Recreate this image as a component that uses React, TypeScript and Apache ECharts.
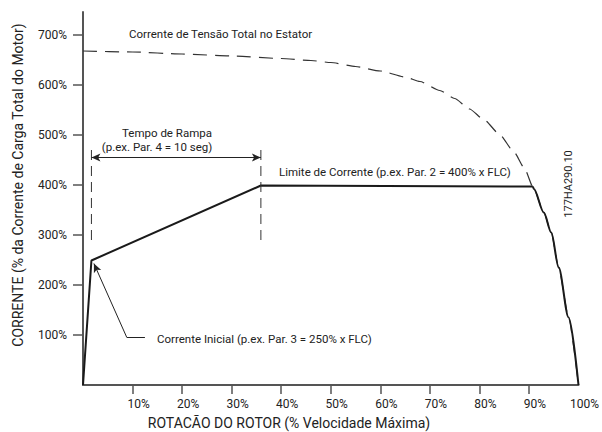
import React, { useEffect, useRef } from "react";
import * as echarts from "echarts";

const FONT = "Roboto, 'Noto Sans', sans-serif";

const xTickValues = [10, 20, 30, 40, 50, 60, 70, 80, 90];
const xLabelValues = [10, 20, 30, 40, 50, 60, 70, 80, 90, 100];
const yValues = [100, 200, 300, 400, 500, 600, 700];

// Corrente de Tensão Total no Estator (dashed)
const statorX = [0, 10, 20, 30, 40, 46, 50, 55, 60, 65, 68, 72, 75, 78, 81, 84, 87, 89, 91, 93, 94.5, 96, 98, 100];
const statorY = [668, 666, 662, 658, 653, 649, 645, 637, 628, 616, 607, 589, 573, 552, 530, 502, 466, 435, 392, 345, 305, 235, 135, 0];

// Corrente real com limite (solid): rampa + limite
const currentX = [0, 1.7, 35.9, 90.8];
const currentY = [0, 249, 399, 397];

// Corrente real: queda final (segue a curva do estator)
const tailX = [90.8, 91, 93, 94.5, 96, 98, 100];
const tailY = [397, 392, 345, 305, 235, 135, 0];

// Ramp markers
const rampStart = 1.7;
const rampEnd = 35.9;
const rampLow = 290;
const rampHigh = 480;
const rampArrowY = 455;

// Leader for "Corrente Inicial"
const leaderX = [12.5, 8.8, 2.2];
const leaderY = [96, 96, 243];

export default function App() {
  const ref = useRef<HTMLDivElement>(null);
  useEffect(() => {
    if (!ref.current) return;
    const chart = echarts.init(ref.current, null, { renderer: "svg" });
    const textStyle = { fill: "#222", fontFamily: FONT, fontSize: 11.5 };
    chart.setOption({
      animation: false,
      backgroundColor: "#fff",
      grid: { left: 83, right: 19, top: 12, bottom: 47 },
      xAxis: {
        type: "value",
        min: 0,
        max: 100,
        axisLine: { show: true, lineStyle: { color: "#555", width: 2 } },
        axisTick: { show: true, customValues: xTickValues, length: 9, lineStyle: { color: "#555", width: 1.5 } },
        axisLabel: {
          customValues: xLabelValues,
          formatter: (v: number) => v + "%",
          color: "#222",
          fontFamily: FONT,
          fontSize: 12,
          margin: 13,
          padding: [0, 0, 0, 12],
        },
        splitLine: { show: false },
      },
      yAxis: {
        type: "value",
        min: 0,
        max: 746,
        axisLine: { show: true, lineStyle: { color: "#555", width: 2 } },
        axisTick: { show: true, customValues: yValues, length: 10, lineStyle: { color: "#555", width: 1.5 } },
        axisLabel: {
          customValues: yValues,
          formatter: (v: number) => v + "%",
          color: "#222",
          fontFamily: FONT,
          fontSize: 12,
          margin: 16,
        },
        splitLine: { show: false },
      },
      series: [
        {
          type: "line",
          data: statorX.map((x, i) => [x, statorY[i]]),
          smooth: 0.2,
          smoothMonotone: "x",
          showSymbol: false,
          silent: true,
          lineStyle: { color: "#333", width: 1.2, type: [14, 8] },
        },
        {
          type: "line",
          data: currentX.map((x, i) => [x, currentY[i]]),
          showSymbol: false,
          silent: true,
          lineStyle: { color: "#1a1a1a", width: 2 },
        },
        {
          type: "line",
          data: tailX.map((x, i) => [x, tailY[i]]),
          smooth: 0.3,
          smoothMonotone: "x",
          showSymbol: false,
          silent: true,
          lineStyle: { color: "#1a1a1a", width: 2 },
        },
        {
          type: "line",
          data: [[rampStart, rampLow], [rampStart, rampHigh]],
          showSymbol: false,
          silent: true,
          lineStyle: { color: "#333", width: 1, type: [10, 6] },
        },
        {
          type: "line",
          data: [[rampEnd, rampLow], [rampEnd, rampHigh]],
          showSymbol: false,
          silent: true,
          lineStyle: { color: "#333", width: 1, type: [10, 6] },
        },
        {
          type: "line",
          data: [],
          silent: true,
          markLine: {
            silent: true,
            animation: false,
            label: { show: false },
            lineStyle: { color: "#222", width: 1, type: "solid" },
            symbolSize: [6, 9],
            data: [
              [
                { coord: [rampStart, rampArrowY], symbol: "arrow" },
                { coord: [rampEnd, rampArrowY], symbol: "arrow" },
              ],
              [
                { coord: [leaderX[0], leaderY[0]], symbol: "none" },
                { coord: [leaderX[1], leaderY[1]], symbol: "none" },
              ],
              [
                { coord: [leaderX[1], leaderY[1]], symbol: "none" },
                { coord: [leaderX[2], leaderY[2]], symbol: "arrow" },
              ],
            ],
          },
        },
      ],
      graphic: [
        { type: "text", x: 129, y: 34, style: { ...textStyle, text: "Corrente de Tensão Total no Estator", textVerticalAlign: "middle" } },
        { type: "text", x: 167, y: 133, style: { ...textStyle, text: "Tempo de Rampa", textAlign: "center", textVerticalAlign: "middle" } },
        { type: "text", x: 157, y: 147, style: { ...textStyle, text: "(p.ex. Par. 4 = 10 seg)", textAlign: "center", textVerticalAlign: "middle" } },
        { type: "text", x: 279, y: 172, style: { ...textStyle, text: "Limite de Corrente (p.ex. Par. 2 = 400% x FLC)", textVerticalAlign: "middle" } },
        { type: "text", x: 157, y: 339, style: { ...textStyle, text: "Corrente Inicial (p.ex. Par. 3 = 250% x FLC)", textVerticalAlign: "middle" } },
        { type: "text", x: 568, y: 184, rotation: Math.PI / 2, style: { ...textStyle, fontSize: 11, text: "177HA290.10", textAlign: "center", textVerticalAlign: "middle" } },
        { type: "text", x: 289, y: 423, style: { ...textStyle, fontSize: 14, text: "ROTACÃO DO ROTOR (% Velocidade Máxima)", textAlign: "center", textVerticalAlign: "middle" } },
        { type: "text", x: 18, y: 185, rotation: Math.PI / 2, style: { ...textStyle, fontSize: 14, text: "CORRENTE (% da Corrente de Carga Total do Motor)", textAlign: "center", textVerticalAlign: "middle" } },
      ],
    });
    return () => chart.dispose();
  }, []);
  return <div ref={ref} style={{ position: "fixed", left: 0, top: 0, width: 602, height: 432 }} />;
}
